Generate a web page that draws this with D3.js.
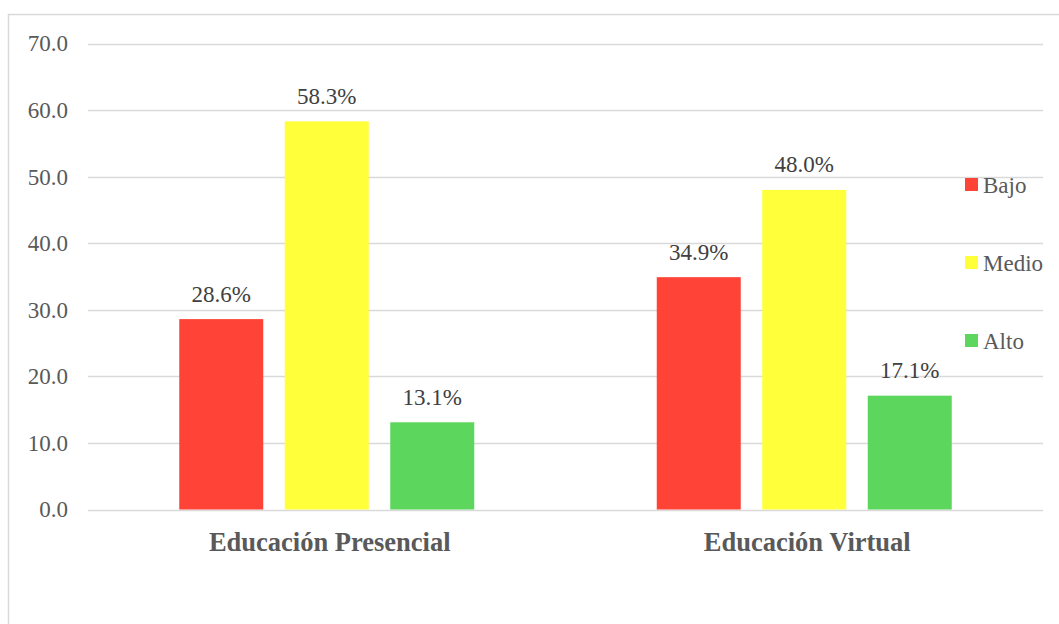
<!DOCTYPE html>
<html>
<head>
<meta charset="utf-8">
<script src="https://cdn.jsdelivr.net/npm/d3@7"></script>
</head>
<body style="margin:0;background:#fff">
<svg id="chart" width="1059" height="624"></svg>
<script>
const categories = ["Educación Presencial", "Educación Virtual"];
const seriesNames = ["Bajo", "Medio", "Alto"];
const bajo = [28.6, 34.9];
const medio = [58.3, 48.0];
const alto = [13.1, 17.1];
const tickValues = [0, 10, 20, 30, 40, 50, 60, 70];
const colors = ["#FF4336", "#FFFF3A", "#5CD65C"];

const FONT = '"Liberation Serif"';

const seriesValues = [bajo, medio, alto];
const data = categories.map((c, i) => ({
  category: c,
  values: seriesNames.map((s, j) => ({ series: s, value: seriesValues[j][i] }))
}));

const svg = d3.select("#chart");

// outer frame (cropped at right/bottom)
svg.append("rect")
  .attr("x", 8.5).attr("y", 14.5)
  .attr("width", 1100).attr("height", 700)
  .attr("fill", "#fff").attr("stroke", "#d9d9d9").attr("stroke-width", 1.5);

const plot = { left: 88, right: 1043, top: 43.5, bottom: 509.5 };

const y = d3.scaleLinear().domain([0, 70]).range([plot.bottom, plot.top]);
const x0 = d3.scaleBand().domain(categories).range([plot.left, plot.right]).padding(0);
const x1 = d3.scaleBand().domain(seriesNames).range([-158.25, 158.25])
  .paddingInner(0.2038).paddingOuter(0.1019);
const color = d3.scaleOrdinal().domain(seriesNames).range(colors);

// gridlines
svg.append("g")
  .selectAll("line")
  .data(tickValues)
  .join("line")
  .attr("x1", plot.left).attr("x2", plot.right)
  .attr("y1", d => Math.round(y(d)) + 0.5).attr("y2", d => Math.round(y(d)) + 0.5)
  .attr("stroke", "#d9d9d9").attr("stroke-width", 1.5);

// y axis labels
const yAxis = d3.axisLeft(y).tickValues(tickValues).tickFormat(d3.format(".1f")).tickSize(0).tickPadding(0);
const gy = svg.append("g").attr("transform", "translate(68,0)").call(yAxis);
gy.attr("font-family", null).attr("font-size", null);
gy.select(".domain").remove();
gy.selectAll("text")
  .style("font-family", FONT)
  .style("font-size", "23px")
  .attr("fill", "#595959");

// bars
const groups = svg.append("g")
  .selectAll("g")
  .data(data)
  .join("g")
  .attr("transform", d => `translate(${x0(d.category) + x0.bandwidth() / 2},0)`);

groups.selectAll("rect")
  .data(d => d.values)
  .join("rect")
  .attr("x", d => x1(d.series))
  .attr("width", x1.bandwidth())
  .attr("y", d => y(d.value))
  .attr("height", d => y(0) - y(d.value))
  .attr("fill", d => color(d.series));

groups.selectAll("text")
  .data(d => d.values)
  .join("text")
  .attr("x", d => x1(d.series) + x1.bandwidth() / 2)
  .attr("y", d => y(d.value) - 17.5)
  .attr("text-anchor", "middle")
  .style("font-family", FONT)
  .style("font-size", "23px")
  .attr("fill", "#404040")
  .text(d => d.value.toFixed(1) + "%");

// category labels
const xAxis = d3.axisBottom(x0).tickSize(0).tickPadding(0);
const gx = svg.append("g").attr("transform", `translate(0,${plot.bottom})`).call(xAxis);
gx.attr("font-family", null).attr("font-size", null);
gx.select(".domain").remove();
gx.selectAll("text")
  .attr("dy", null)
  .attr("y", 41)
  .attr("dx", 3)
  .style("font-family", FONT)
  .style("font-size", "26.5px")
  .style("font-weight", "bold")
  .attr("fill", "#595959");

// legend
const legend = svg.append("g")
  .selectAll("g")
  .data(seriesNames)
  .join("g")
  .attr("transform", (d, i) => `translate(965,${178 + i * 78})`);
legend.append("rect")
  .attr("width", 13).attr("height", 13)
  .attr("fill", d => color(d));
legend.append("text")
  .attr("x", 18).attr("y", 14.5)
  .style("font-family", FONT)
  .style("font-size", "23px")
  .attr("fill", "#595959")
  .text(d => d);
</script>
</body>
</html>
